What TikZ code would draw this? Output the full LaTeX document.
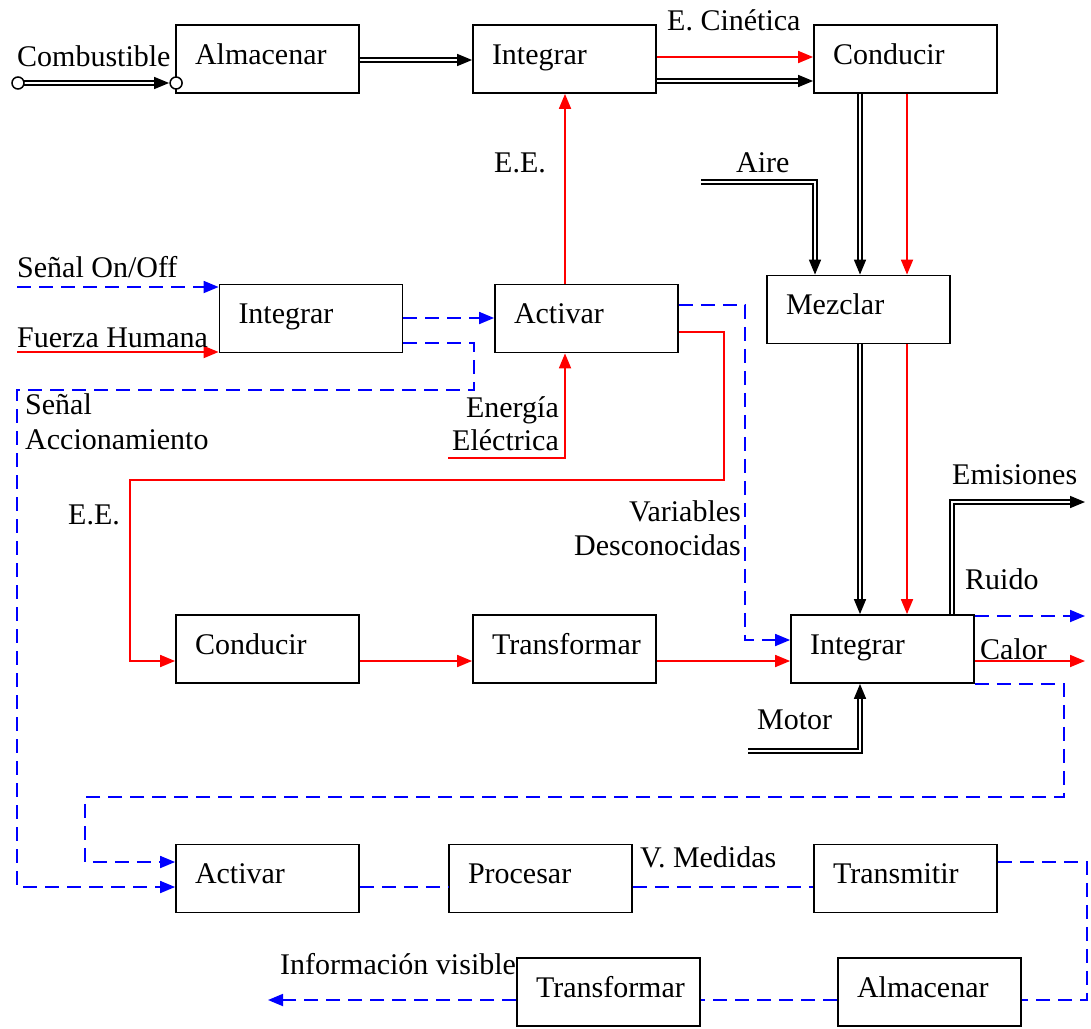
\documentclass[tikz,border=0pt]{standalone}
\usepackage{fontspec}
\setmainfont{Liberation Serif}
\usetikzlibrary{arrows.meta,calc}
\newcommand{\fs}{\fontsize{30pt}{34pt}\selectfont}
\begin{document}
\begin{tikzpicture}[x=1pt,y=-1pt,
  box/.style={draw, line width=1.8pt, minimum height=68pt, text width=145pt,
    inner xsep=19pt, inner ysep=0pt, align=left, text height=21pt, text depth=11pt, font=\fs},
  lbl/.style={inner sep=0pt, font=\fs, anchor=base west},
  lblr/.style={inner sep=0pt, font=\fs, anchor=base east},
  tip/.style={-{Triangle[length=15pt,width=12pt]}},
  rd/.style={draw=red, line width=1.8pt},
  bl/.style={draw=blue, line width=1.8pt, dash pattern=on 14pt off 8pt},
  dbl/.style={draw=black, double=white, double distance=2.2pt, line width=1.6pt},
  circ/.style={draw, line width=1.5pt, fill=white}]
\useasboundingbox (0,0) rectangle (1091,1028);

% boxes
\node[box] (alm1) at (267.5,59) {Almacenar};
\node[box] (int1) at (564.5,59) {Integrar};
\node[box] (con1) at (905.5,59) {Conducir};
\node[box] (int2) at (311,318.5) {Integrar};
\node[box] (act1) at (586.5,318.5) {Activar};
\node[box] (mez) at (858.5,309.5) {Mezclar};
\node[box] (con2) at (267.5,649) {Conducir};
\node[box] (tra1) at (564.5,649) {Transformar};
\node[box] (int3) at (882.5,649) {Integrar};
\node[box] (act2) at (267.5,878.5) {Activar};
\node[box] (pro) at (540.5,878.5) {Procesar};
\node[box] (tmt) at (905.5,878.5) {Transmitir};
\node[box] (tra2) at (608.5,992) {Transformar};
\node[box] (alm2) at (929.5,992) {Almacenar};

% free ends
\coordinate (comb) at (18,83);
\coordinate (aire) at (701,182);
\coordinate (emi) at (1085,502);
\coordinate (ruido) at (1085,616);
\coordinate (calor) at (1085,661);
\coordinate (motor) at (748,751);
\coordinate (ener) at (448,458);
\coordinate (onoff) at (17,287);
\coordinate (fh) at (17,352);
\coordinate (info) at (268,1000);

% Combustible
\draw[dbl,tip] ($(comb)+(6,0)$) -- ($(alm1.west |- comb)+(-6,0)$);
\draw[circ] (comb) circle[radius=6pt];
\draw[circ] ($(alm1.west |- comb)+(1,0)$) circle[radius=6pt];

% top row
\draw[dbl,tip] (alm1.east |- 0,60) -- (int1.west |- 0,60);
\draw[rd,tip] (int1.east |- 0,57) -- (con1.west |- 0,57);
\draw[dbl,tip] (int1.east |- 0,81) -- (con1.west |- 0,81);
\draw[dbl,tip] (con1.south -| 860,0) -- (mez.north -| 860,0);
\draw[rd,tip] (con1.south -| 907,0) -- (mez.north -| 907,0);
\draw[dbl,tip] (aire) -- (815,182) -- (mez.north -| 815,0);
\draw[dbl,tip] (mez.south -| 860,0) -- (int3.north -| 860,0);
\draw[rd,tip] (mez.south -| 907,0) -- (int3.north -| 907,0);

% outputs of integrar
\draw[dbl,tip] (int3.north -| 952,0) |- (emi);
\draw[bl,tip] (int3.east |- ruido) -- (ruido);
\draw[rd,tip] (int3.east |- calor) -- (calor);
\draw[bl,tip] (int3.south east) -| (1064,797) -- (85,797) |- (act2.west |- 0,862);
\draw[dbl,tip] (motor) -| (int3.south -| 860,0);

% middle row
\draw[rd,tip] (con2.east |- 0,661) -- (tra1.west |- 0,661);
\draw[rd,tip] (tra1.east |- 0,661) -- (int3.west |- 0,661);
\draw[bl,tip] (act1.east |- 0,305) -- (745,305) |- (int3.west |- 0,640);
\draw[rd,tip] (act1.east |- 0,332) -- (724,332) -- (724,480) -- (130,480) |- (con2.west |- 0,661);
\draw[rd,tip] (act1.north -| 565,0) -- (int1.south -| 565,0);
\draw[rd,tip] (ener) -| (act1.south -| 565,0);
\draw[bl,tip] (onoff) -- (int2.west |- onoff);
\draw[rd,tip] (fh) -- (int2.west |- fh);
\draw[bl,tip] (int2.east |- 0,318) -- (act1.west |- 0,318);
\draw[bl,tip] (int2.east |- 0,343) -- (474,343) -- (474,390) -- (17,390) |- (act2.west |- 0,887);

% bottom rows
\draw[bl] (act2.east |- 0,887) -- (pro.west |- 0,887);
\draw[bl] (pro.east |- 0,887) -- (tmt.west |- 0,887);
\draw[bl] (tmt.east |- 0,862) -- (1087,862) |- (alm2.east |- 0,1000);
\draw[bl] (alm2.west |- 0,1000) -- (tra2.east |- 0,1000);
\draw[bl,tip] (tra2.west |- 0,1000) -- (info);

% labels
\node[lbl] (lcomb) at (17,66) {Combustible};
\node[lbl] (lcin) at (667,30) {E. Cinética};
\node[lbl] (laire) at (736,172) {Aire};
\node[lbl] (lee1) at (494,172) {E.E.};
\node[lbl] (lonoff) at (17,277) {Señal On/Off};
\node[lbl] (lfh) at (17,347) {Fuerza Humana};
\node[lbl] (lsen) at (25,414) {Señal};
\node[lbl] (lacc) at (25,449) {Accionamiento};
\node[lblr] (lener) at (559,417) {Energía};
\node[lblr] (lelec) at (559,450) {Eléctrica};
\node[lbl] (lee2) at (68,524) {E.E.};
\node[lblr] (lvar) at (741,521) {Variables};
\node[lblr] (ldes) at (741,555) {Desconocidas};
\node[lbl] (lemi) at (952,484) {Emisiones};
\node[lbl] (lrui) at (965,589) {Ruido};
\node[lbl] (lcal) at (980,659) {Calor};
\node[lbl] (lmot) at (757,729) {Motor};
\node[lbl] (lvm) at (640,867) {V. Medidas};
\node[lbl] (linf) at (280,974) {Información visible};
\end{tikzpicture}
\end{document}
